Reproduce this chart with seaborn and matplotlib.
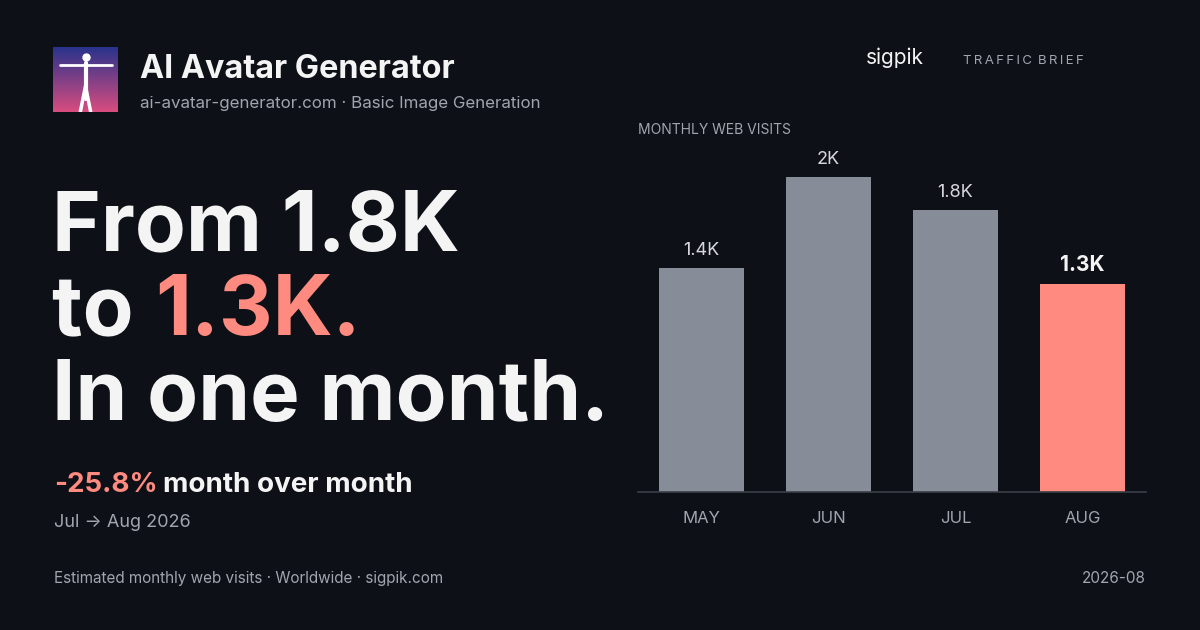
import numpy as np
import matplotlib
matplotlib.use("Agg")
import matplotlib.pyplot as plt
import seaborn as sns
import pandas as pd

months = ["MAY", "JUN", "JUL", "AUG"]
visits = [1420, 2000, 1790, 1320]
value_labels = ["1.4K", "2K", "1.8K", "1.3K"]

BG = "#0d1016"
GRAY_BAR = "#878c99"
CORAL = "#ff8a80"
WHITE = "#f4f4f5"
MUTED = "#a1a5ae"

sns.set_theme(style="dark")
plt.rcParams["font.family"] = ["Inter", "DejaVu Sans"]

W, H = 1200, 630
fig = plt.figure(figsize=(12, 6.3), dpi=100, facecolor=BG)


def px(x, y):
    return x / W, 1 - y / H


def txt(x, y, s, **kw):
    fig.text(*px(x, y), s, **kw)


# chart
ax = fig.add_axes([638 / W, 138 / H, 508 / W, 352 / H], facecolor=BG)
df = pd.DataFrame({"month": months, "visits": visits})
sns.barplot(data=df, x="month", y="visits", hue="month",
            palette=[GRAY_BAR, GRAY_BAR, GRAY_BAR, CORAL], width=0.67,
            legend=False, saturation=1, linewidth=0, ax=ax)
ax.set_xlim(-0.5, 3.5)
ax.set_ylim(0, 2235)
ax.set_yticks([])
ax.set_xlabel("")
ax.set_ylabel("")
for s in ["top", "right", "left"]:
    ax.spines[s].set_visible(False)
ax.spines["bottom"].set_color("#3a3e47")
ax.spines["bottom"].set_linewidth(1.2)
ax.tick_params(axis="x", colors=MUTED, labelsize=12, length=0, pad=14)
ax.grid(False)
for i, (v, lab) in enumerate(zip(visits, value_labels)):
    last = i == len(visits) - 1
    ax.text(i, v + 60, lab, ha="center", va="bottom",
            color=WHITE if last else "#d6d8dd",
            fontsize=15 if last else 13, fontweight="bold" if last else "normal")

# logo
lax = fig.add_axes([53 / W, 1 - 112 / H, 65 / W, 65 / H])
grad = np.linspace(0, 1, 100)[:, None]
cols = np.array([[0.16, 0.20, 0.55]]) * (1 - grad) + np.array([[0.85, 0.30, 0.50]]) * grad
lax.imshow(np.repeat(cols[:, None, :], 100, axis=1), aspect="auto", extent=[0, 1, 0, 1])
lax.plot([0.5, 0.5], [0.2, 0.75], color="white", lw=3)
lax.plot([0.1, 0.9], [0.72, 0.72], color="white", lw=2)
lax.plot([0.42, 0.5, 0.58], [0.0, 0.4, 0.0], color="white", lw=2.5)
lax.scatter([0.5], [0.85], color="white", s=25)
lax.set_xlim(0, 1)
lax.set_ylim(0, 1)
lax.axis("off")

# header
txt(140, 78, "AI Avatar Generator", color=WHITE, fontsize=23.3, fontweight="bold")
txt(140, 108, "ai-avatar-generator.com · Basic Image Generation", color=MUTED, fontsize=12.2)
txt(866, 64, "sigpik", color=WHITE, fontsize=15)
txt(963, 64, "\u2009".join("TRAFFIC"), color=MUTED, fontsize=9.5)
txt(1038, 64, "\u2009".join("BRIEF"), color=MUTED, fontsize=9.5)
txt(638, 134, "MONTHLY WEB VISITS", color=MUTED, fontsize=10)

# headline
HS = 60
txt(52, 250, "From 1.8K", color=WHITE, fontsize=HS, fontweight="bold")
txt(52, 335, "to ", color=WHITE, fontsize=HS, fontweight="bold")
txt(155, 335, "1.3K.", color=CORAL, fontsize=HS, fontweight="bold")
txt(52, 420, "In one month.", color=WHITE, fontsize=HS, fontweight="bold")

txt(54, 492, "-25.8%", color=CORAL, fontsize=20, fontweight="bold")
txt(163, 492, "month over month", color=WHITE, fontsize=20, fontweight="bold")
txt(54, 527, "Jul → Aug 2026", color=MUTED, fontsize=13)

txt(54, 583, "Estimated monthly web visits · Worldwide · sigpik.com", color=MUTED, fontsize=11)
txt(1146, 583, "2026-08", color=MUTED, fontsize=11, ha="right")

fig.savefig("out.png", dpi=100, facecolor=BG)
